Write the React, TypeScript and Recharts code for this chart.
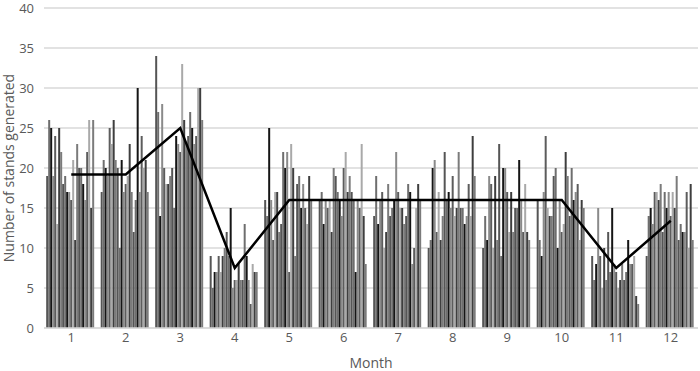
import { Bar, CartesianGrid, ComposedChart, Label, Line, XAxis, YAxis } from "recharts";

const MONTHS = ["1", "2", "3", "4", "5", "6", "7", "8", "9", "10", "11", "12"];

// daily counts per month (24 bars per month)
const jan = [19, 26, 25, 19, 24, 13, 25, 22, 18, 19, 17, 17, 16, 21, 11, 23, 20, 20, 18, 16, 22, 26, 15, 26];
const feb = [17, 21, 20, 19, 25, 23, 26, 21, 20, 10, 21, 17, 18, 19, 23, 17, 12, 16, 30, 17, 24, 20, 21, 17];
const mar = [34, 27, 14, 28, 20, 18, 18, 19, 20, 15, 24, 23, 22, 33, 26, 23, 24, 27, 25, 23, 24, 30, 30, 26];
const apr = [9, 5, 7, 7, 9, 7, 9, 10, 12, 9, 15, 5, 6, 6, 8, 6, 6, 13, 9, 6, 3, 8, 7, 7];
const may = [16, 14, 25, 16, 11, 17, 17, 12, 13, 22, 20, 22, 7, 23, 20, 9, 18, 19, 15, 18, 15, 13, 19, 16];
const jun = [16, 17, 13, 16, 15, 16, 12, 20, 19, 17, 16, 14, 20, 22, 17, 19, 17, 16, 7, 16, 15, 23, 14, 8];
const jul = [14, 19, 13, 16, 17, 10, 12, 18, 14, 15, 16, 22, 17, 15, 15, 13, 14, 18, 17, 8, 10, 15, 18, 16];
const aug = [10, 11, 20, 21, 12, 17, 11, 14, 22, 16, 17, 15, 19, 14, 15, 22, 15, 15, 13, 14, 18, 14, 24, 19];
const sep = [10, 14, 11, 19, 18, 10, 19, 11, 23, 9, 20, 20, 17, 12, 17, 12, 15, 15, 21, 16, 12, 18, 12, 11];
const oct = [16, 11, 9, 17, 24, 15, 14, 14, 19, 20, 10, 16, 12, 13, 22, 19, 14, 20, 16, 17, 18, 11, 16, 15];
const nov = [9, 6, 8, 15, 9, 5, 10, 6, 12, 7, 15, 8, 7, 5, 6, 8, 6, 7, 11, 8, 8, 9, 4, 3];
const dec = [9, 14, 15, 13, 17, 17, 16, 18, 12, 17, 15, 17, 14, 17, 15, 19, 11, 13, 12, 12, 17, 10, 18, 11];

// fitted monthly level (black line)
const trend = [19.2, 19.2, 25, 7.5, 16, 16, 16, 16, 16, 16, 7.5, 13.4];

const monthly = [jan, feb, mar, apr, may, jun, jul, aug, sep, oct, nov, dec];
const GRAYS = ["#555555", "#6e6e6e", "#151515", "#8a8a8a", "#5c5c5c", "#a9a9a9", "#3e3e3e", "#7b7b7b"];
const KEYS = jan.map((_, i) => `d${i + 1}`);

const data = MONTHS.map((month, m) => {
  const row: Record<string, string | number> = { month, trend: trend[m] };
  monthly[m].forEach((v, i) => {
    row[KEYS[i]] = v;
  });
  return row;
});

const FONT = "'Open Sans', 'Noto Sans', sans-serif";

export default function App() {
  return (
    <div style={{ position: "absolute", left: 0, top: 0, background: "#fff" }}>
      <ComposedChart
        width={700}
        height={371}
        data={data}
        margin={{ top: 8, right: 2, bottom: 0, left: 0 }}
        barCategoryGap="4%"
        barGap={0}
      >
        <CartesianGrid vertical={false} stroke="#d9d9d9" strokeWidth={1.3} />
        <XAxis
          dataKey="month"
          height={43}
          tickLine={false}
          axisLine={{ stroke: "#d9d9d9", strokeWidth: 1.3 }}
          tick={{ fill: "#595959", fontSize: 13, fontFamily: FONT }}
          tickMargin={-1}
        >
          <Label value="Month" position="insideBottom" offset={3} fill="#595959" fontSize={14} fontFamily={FONT} />
        </XAxis>
        <YAxis
          domain={[0, 40]}
          ticks={[0, 5, 10, 15, 20, 25, 30, 35, 40]}
          width={44}
          axisLine={false}
          tickLine={false}
          tick={{ fill: "#595959", fontSize: 13, fontFamily: FONT }}
          tickMargin={4}
        >
          <Label
            value="Number of stands generated"
            angle={-90}
            position="insideLeft"
            offset={9}
            style={{ textAnchor: "middle" }}
            fill="#595959"
            fontSize={14}
            fontFamily={FONT}
          />
        </YAxis>
        {KEYS.map((k, i) => (
          <Bar key={k} dataKey={k} fill={GRAYS[i % GRAYS.length]} isAnimationActive={false} />
        ))}
        <Line
          dataKey="trend"
          stroke="#000"
          strokeWidth={2.5}
          dot={false}
          type="linear"
          isAnimationActive={false}
        />
      </ComposedChart>
    </div>
  );
}
